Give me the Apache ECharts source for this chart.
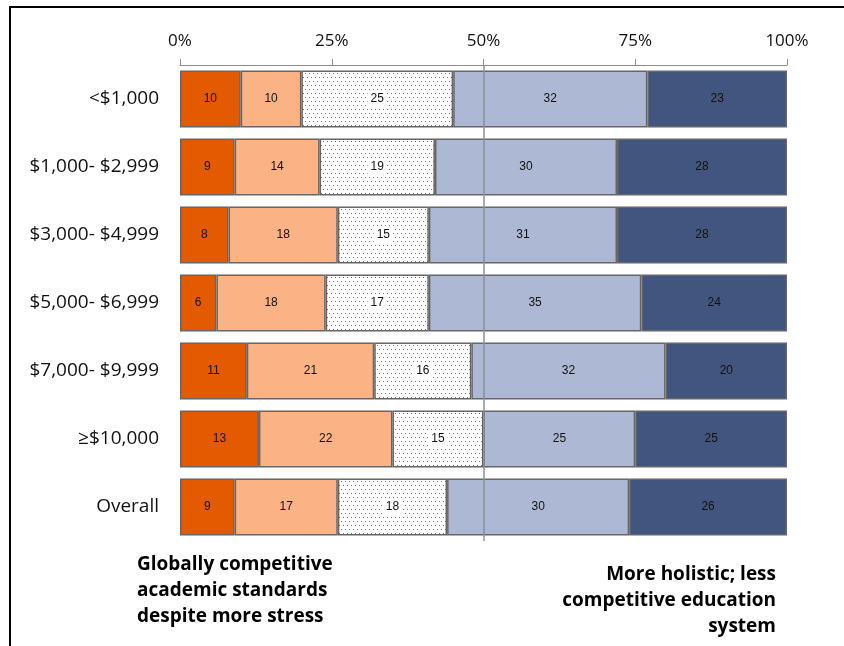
<!DOCTYPE html>
<html>
<head>
<meta charset="utf-8">
<script src="https://cdn.jsdelivr.net/npm/echarts@6/dist/echarts.min.js"></script>
<style>
  html, body { margin: 0; padding: 0; background: #fff; }
  #chart { width: 844px; height: 646px; }
</style>
</head>
<body>
<div id="chart"></div>
<script>
// Income groups (top to bottom) and answer shares in percent
const categories = ['<$1,000', '$1,000- $2,999', '$3,000- $4,999', '$5,000- $6,999', '$7,000- $9,999', '≥$10,000', 'Overall'];
const seriesNames = ['Strongly competitive', 'Competitive', 'Neutral', 'Holistic', 'Strongly holistic'];
const strongCompetitive = [10, 9, 8, 6, 11, 13, 9];
const competitive      = [10, 14, 18, 18, 21, 22, 17];
const neutral          = [25, 19, 15, 17, 16, 15, 18];
const holistic         = [32, 30, 31, 35, 32, 25, 30];
const strongHolistic   = [23, 28, 28, 24, 20, 25, 26];
const tickLabels = ['0%', '25%', '50%', '75%', '100%'];

// Dotted fill for the neutral segment
function dotPattern() {
  const c = document.createElement('canvas');
  c.width = 8; c.height = 8;
  const g = c.getContext('2d');
  g.fillStyle = '#ffffff';
  g.fillRect(0, 0, 8, 8);
  g.fillStyle = '#707070';
  [[1, 1], [5, 1], [3, 5], [7, 5]].forEach(p => g.fillRect(p[0], p[1], 1, 1));
  return c;
}

const fills = ['#E35A00', '#FBB385', { image: dotPattern(), repeat: 'repeat' }, '#ADB8D4', '#42557E'];
const values = [strongCompetitive, competitive, neutral, holistic, strongHolistic];

const chart = echarts.init(document.getElementById('chart'), null, { renderer: 'canvas' });

const series = values.map((vals, i) => ({
  name: seriesNames[i],
  type: 'bar',
  stack: 'total',
  barWidth: 57,
  data: vals,
  itemStyle: { color: fills[i], borderColor: '#666666', borderWidth: 1.5 },
  label: {
    show: true,
    position: 'inside',
    color: '#111111',
    fontFamily: 'Liberation Sans',
    fontSize: 12,
    backgroundColor: i === 2 ? '#ffffff' : 'transparent',
    padding: i === 2 ? [2, 3] : 0
  }
}));

// Midpoint reference line at 50%
series[4].markLine = {
  silent: true,
  symbol: 'none',
  label: { show: false },
  lineStyle: { color: '#8A8F99', type: 'solid', width: 1.5 },
  data: [{ xAxis: 50 }],
  z: 10
};

chart.setOption({
  animation: false,
  grid: { left: 180, right: 57, top: 65, bottom: 105 },
  xAxis: {
    type: 'value',
    position: 'top',
    min: 0,
    max: 100,
    interval: 25,
    axisLine: { show: true, lineStyle: { color: '#8c8c8c', width: 1 } },
    axisTick: { show: true, length: 6, lineStyle: { color: '#8c8c8c' } },
    splitLine: { show: false },
    axisLabel: {
      fontFamily: 'Open Sans',
      fontSize: 17,
      color: '#111',
      margin: 15,
      formatter: v => tickLabels[Math.round(v / 25)]
    }
  },
  yAxis: {
    type: 'category',
    inverse: true,
    data: categories,
    axisLine: { show: false },
    axisTick: { show: false },
    axisLabel: {
      fontFamily: 'Open Sans',
      fontSize: 19,
      color: '#111',
      margin: 21
    }
  },
  series: series,
  graphic: [
    { type: 'line', shape: { x1: 10, y1: 7, x2: 844, y2: 7 }, style: { stroke: '#000', lineWidth: 2 } },
    { type: 'line', shape: { x1: 10, y1: 6, x2: 10, y2: 646 }, style: { stroke: '#000', lineWidth: 2 } },
    {
      type: 'text', x: 137, y: 552,
      style: {
        text: 'Globally competitive\nacademic standards\ndespite more stress',
        font: 'bold 19px "Open Sans"', lineHeight: 26, fill: '#000',
        textAlign: 'left', align: 'left'
      }
    },
    {
      type: 'text', x: 776, y: 562,
      style: {
        text: 'More holistic; less\ncompetitive education\nsystem',
        font: 'bold 19px "Open Sans"', lineHeight: 26, fill: '#000',
        textAlign: 'right', align: 'right'
      }
    }
  ]
});
</script>
</body>
</html>
